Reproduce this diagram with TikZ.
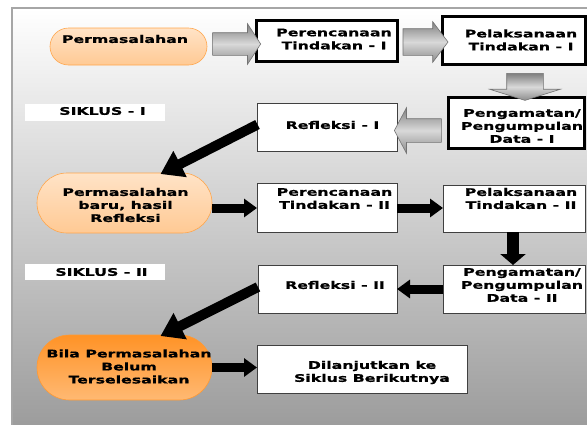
\documentclass[tikz,border=0pt]{standalone}
\usepackage{fontspec}
\setmainfont{DejaVu Sans}[FakeStretch=1.5,BoldFeatures={FakeBold=0.8}]
\usetikzlibrary{shapes.misc,shapes.arrows,arrows.meta,calc}
\begin{document}
\begin{tikzpicture}[x=1pt,y=-1pt,
  every node/.style={inner sep=0pt,outer sep=0pt},
  lab/.style={font=\fontsize{10.5}{13}\selectfont\bfseries,align=center,text=black},
  thickbox/.style={draw=black,line width=3pt,fill=white},
  thinbox/.style={draw=black!75,line width=1pt,fill=white},
  pill/.style={rounded rectangle,draw=orange!70!white,line width=0.6pt,
    top color=orange!22!white,bottom color=orange!42!white},
  pillstrong/.style={rounded rectangle,draw=orange!80!white,line width=0.6pt,
    top color=orange!85!white,bottom color=orange!55!white},
  siklus/.style={fill=white},
  garrow/.style={single arrow,draw=black!55,line width=0.6pt,inner xsep=0pt,
    top color=black!50,bottom color=black!45,middle color=black!15},
  barrow/.style={line width=9pt,-{Triangle[width=18pt,length=13pt]}},
  bdiag/.style={line width=10pt,-{Triangle[width=28pt,length=22pt]}},
  bdown/.style={line width=12pt,-{Triangle[width=25pt,length=11pt]}}
]
\useasboundingbox (0,0) rectangle (587,424);
\shade[top color=white,bottom color=black!40] (12,8) rectangle (600,440);
\draw[black!35,line width=1.2pt] (600,8) -- (12,8) -- (12,440);

% siklus labels
\node[siklus,minimum width=140,minimum height=17,
  label={[lab,xshift=7.5pt,yshift=1.5pt]center:SIKLUS - I}] (s1) at (95,112.5) {};
\node[siklus,minimum width=140,minimum height=16,
  label={[lab,xshift=6.5pt]center:SIKLUS - II}] (s2) at (95,272) {};

% cycle I
\node[pill,minimum width=157,minimum height=37,
  label={[lab,xshift=-3.5pt,yshift=7.5pt]center:Permasalahan}] (perm) at (128.5,46.5) {};
\node[thickbox,minimum width=141,minimum height=41,
  label={[lab,xshift=7.5pt,yshift=1.5pt]center:Perencanaan\\Tindakan - I}] (p1) at (326.5,40.5) {};
\node[thickbox,minimum width=143,minimum height=48,
  label={[lab,xshift=7.5pt]center:Pelaksanaan\\Tindakan - I}] (e1) at (513.5,40) {};
\node[thickbox,minimum width=136,minimum height=51,
  label={[lab,xshift=6pt,yshift=-3.5pt]center:Pengamatan/\\Pengumpulan\\Data - I}] (g1) at (516,122.5) {};
\node[thinbox,minimum width=140,minimum height=48,
  label={[lab,xshift=5pt,yshift=2.5pt]center:Refleksi - I}] (r1) at (327.5,127.5) {};

% gray block arrows
\node[garrow,minimum height=48,inner ysep=11pt,single arrow head extend=9pt,
  single arrow tip angle=114] (ga1) at (233,44) {};
\node[garrow,minimum height=45,inner ysep=13pt,single arrow head extend=7pt,
  single arrow tip angle=106] (ga2) at (420.5,42) {};
\node[garrow,rotate=-90,minimum height=27,inner ysep=18pt,single arrow head extend=17pt,
  single arrow tip angle=145] (ga3) at (525,84) {};
\node[garrow,rotate=180,minimum height=47,inner ysep=11.5pt,single arrow head extend=11pt,
  single arrow tip angle=124] (ga4) at (421,130.5) {};

% cycle II
\node[pill,minimum width=175,minimum height=60,
  label={[lab,xshift=1pt,yshift=-2pt]center:Permasalahan\\baru, hasil\\Refleksi}] (pb) at (124.5,203) {};
\node[thinbox,minimum width=140,minimum height=49,
  label={[lab,xshift=7.5pt,yshift=9pt]center:Perencanaan\\Tindakan - II}] (p2) at (327,207.5) {};
\node[thinbox,minimum width=142,minimum height=47,
  label={[lab,xshift=7pt,yshift=10pt]center:Pelaksanaan\\Tindakan - II}] (e2) at (514,208.5) {};
\node[thinbox,minimum width=142,minimum height=48,
  label={[lab,xshift=8pt,yshift=4pt]center:Pengamatan/\\Pengumpulan\\Data - II}] (g2) at (514,289) {};
\node[thinbox,minimum width=139,minimum height=48,
  label={[lab,xshift=7.5pt,yshift=4pt]center:Refleksi - II}] (r2) at (327.5,289) {};

% final
\node[pillstrong,minimum width=175,minimum height=65,
  label={[lab,xshift=4.5pt,yshift=1pt]center:Bila Permasalahan\\Belum\\Terselesaikan}] (bila) at (124.5,367.5) {};
\node[thinbox,minimum width=210,minimum height=48,
  label={[lab,xshift=10pt,yshift=-3.5pt]center:Dilanjutkan ke\\Siklus Berikutnya}] (dl) at (362,369) {};

% black arrows
\coordinate (c1) at ([yshift=-5pt]pb.east);
\coordinate (c2) at ([yshift=-0.5pt]p2.east);
\draw[bdiag] ([yshift=3pt]r1.west) -- ([xshift=36pt,yshift=-1pt]pb.north);
\draw[barrow] (c1) -- (c1 -| p2.west);
\draw[barrow] (c2) -- (c2 -| e2.west);
\draw[bdown] ([xshift=-1pt]e2.south) -- ([xshift=-1pt]g2.north);
\draw[barrow] (g2.west) -- (g2.west -| r2.east);
\draw[bdiag] ([yshift=2pt]r2.west) -- ([xshift=36pt,yshift=-1pt]bila.north);
\draw[barrow] (bila.east) -- (bila.east -| dl.west);
\end{tikzpicture}
\end{document}
